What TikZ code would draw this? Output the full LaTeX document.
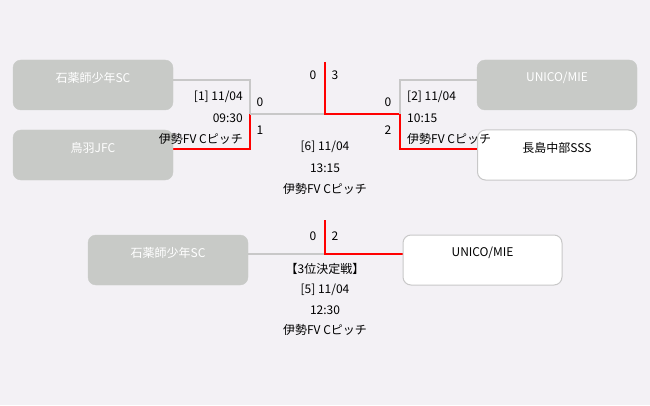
\documentclass[tikz,border=0pt]{standalone}
\usepackage{fontspec}
\setmainfont{Noto Sans CJK JP}
\usepackage{tikz}
\definecolor{bgcol}{HTML}{F3F1F5}
\definecolor{boxgrey}{HTML}{C8CAC7}
\definecolor{linegrey}{HTML}{C8C8C8}
\definecolor{winred}{HTML}{FF0000}
\pgfdeclarelayer{bglayer}
\pgfdeclarelayer{nodelayer}
\pgfdeclarelayer{edgelayer}
\pgfsetlayers{bglayer,edgelayer,nodelayer,main}
\tikzstyle{none}=[inner sep=-1pt]
\tikzstyle{txt}=[inner sep=0pt, font=\fontsize{12}{14}\selectfont]
\tikzset{losebox/.style={shape=rectangle, fill=boxgrey, draw=boxgrey, rounded corners=8pt,
minimum width=160pt, minimum height=50pt}}
\tikzset{winbox/.style={shape=rectangle, fill=white, draw=linegrey, line width=1pt, rounded corners=8pt,
minimum width=159pt, minimum height=50pt}}
\tikzset{lost/.style={draw=linegrey, line width=2pt}, won/.style={draw=winred, line width=2pt}}

\begin{document}
\begin{tikzpicture}[x=50pt, y=50pt]
    			\begin{pgfonlayer}{bglayer}
    				\fill [bgcol] (0, 0) rectangle (13, 8.1);
    			\end{pgfonlayer}
    			\begin{pgfonlayer}{nodelayer}
    				\node [style=losebox] (0) at (1.86, 6.4) {};
    				\node [style=losebox] (1) at (1.86, 5) {};
    				\node [style=losebox] (2) at (11.14, 6.4) {};
    				\node [style=winbox] (3) at (11.14, 5) {};
    				\node [style=losebox] (4) at (3.36, 2.9) {};
    				\node [style=winbox] (5) at (9.65, 2.9) {};
    				\node [style=txt, white] (20) at (1.86, 6.54) {石薬師少年SC};
    				\node [style=txt, white] (21) at (1.86, 5.14) {鳥羽JFC};
    				\node [style=txt, white] (22) at (11.14, 6.54) {UNICO/MIE};
    				\node [style=txt] (23) at (11.14, 5.14) {長島中部SSS};
    				\node [style=txt, white] (24) at (3.36, 3.04) {石薬師少年SC};
    				\node [style=txt] (25) at (9.65, 3.04) {UNICO/MIE};
    				\node [style=none] (6) at (3.46, 6.5) {};
    				\node [style=none] (7) at (5, 6.5) {};
    				\node [style=none] (8) at (5, 5.82) {};
    				\node [style=none] (9) at (3.46, 5.12) {};
    				\node [style=none] (10) at (5, 5.12) {};
    				\node [style=none] (11) at (6.5, 5.82) {};
    				\node [style=none] (12) at (6.5, 6.86) {};
    				\node [style=none] (13) at (8, 5.82) {};
    				\node [style=none] (14) at (8, 6.5) {};
    				\node [style=none] (15) at (9.54, 6.5) {};
    				\node [style=none] (16) at (8, 5.12) {};
    				\node [style=none] (17) at (9.54, 5.12) {};
    				\node [style=none] (18) at (4.96, 3.02) {};
    				\node [style=none] (19) at (6.5, 3.02) {};
    				\node [style=none] (26) at (6.5, 3.7) {};
    				\node [style=none] (27) at (8.06, 3.02) {};
    			\end{pgfonlayer}
    			\begin{pgfonlayer}{edgelayer}
    				\draw [style=lost] (6.center) to (7.center) to (8.center);
    				\draw [style=won] (9.center) to (10.center) to (8.center);
    				\draw [style=lost] (8.center) to (11.center);
    				\draw [style=won] (12.center) to (11.center) to (13.center);
    				\draw [style=lost] (13.center) to (14.center) to (15.center);
    				\draw [style=won] (13.center) to (16.center) to (17.center);
    				\draw [style=lost] (18.center) to (19.center);
    				\draw [style=won] (26.center) to (19.center) to (27.center);
    			\end{pgfonlayer}
    			% match 1
    			\node [style=txt, anchor=east] (30) at (4.86, 6.16) {[1] 11/04};
    			\node [style=txt, anchor=east] (31) at (4.86, 5.74) {09:30};
    			\node [style=txt, anchor=east] (32) at (4.86, 5.32) {伊勢FV Cピッチ};
    			\node [style=txt] (33) at (5.2, 6.06) {0};
    			\node [style=txt] (34) at (5.2, 5.5) {1};
    			% match 2
    			\node [style=txt, anchor=west] (35) at (8.14, 6.16) {[2] 11/04};
    			\node [style=txt, anchor=west] (36) at (8.14, 5.74) {10:15};
    			\node [style=txt, anchor=west] (37) at (8.14, 5.32) {伊勢FV Cピッチ};
    			\node [style=txt] (38) at (7.76, 6.06) {0};
    			\node [style=txt] (39) at (7.76, 5.5) {2};
    			% final
    			\node [style=txt] (40) at (6.26, 6.6) {0};
    			\node [style=txt] (41) at (6.7, 6.6) {3};
    			\node [style=txt] (42) at (6.5, 5.16) {[6] 11/04};
    			\node [style=txt] (43) at (6.5, 4.74) {13:15};
    			\node [style=txt] (44) at (6.5, 4.32) {伊勢FV Cピッチ};
    			% third place
    			\node [style=txt] (45) at (6.26, 3.38) {0};
    			\node [style=txt] (46) at (6.7, 3.38) {2};
    			\node [style=txt] (47) at (6.5, 2.72) {【3位決定戦】};
    			\node [style=txt] (48) at (6.5, 2.3) {[5] 11/04};
    			\node [style=txt] (49) at (6.5, 1.9) {12:30};
    			\node [style=txt] (50) at (6.5, 1.5) {伊勢FV Cピッチ};
\end{tikzpicture}
\end{document}
